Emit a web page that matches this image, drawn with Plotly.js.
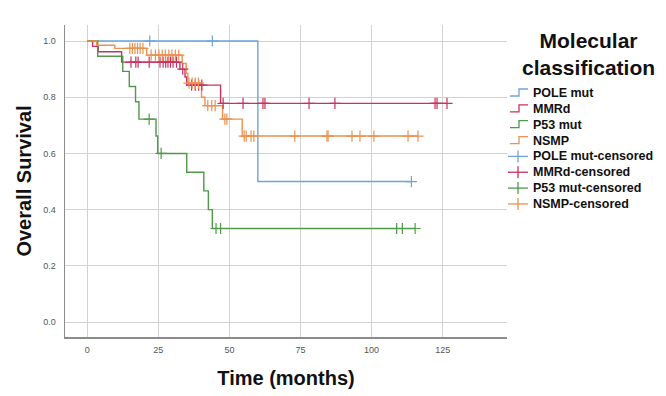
<!DOCTYPE html>
<html>
<head>
<meta charset="utf-8">
<script src="https://cdn.plot.ly/plotly-3.0.1.min.js"></script>
<style>html,body{margin:0;padding:0;background:#fff;}#chart{width:666px;height:396px;}</style>
</head>
<body>
<div id="chart"></div>
<script>
// Kaplan-Meier step data (event times and survival after each event)
var groupNames = ["POLE mut", "MMRd", "P53 mut", "NSMP"];

var poleT = [0, 60];
var poleS = [1.0, 0.5];
var poleCens = [22, 44, 114];

var mmrdT = [0, 1.9, 3.9, 12.1, 32.6, 34.4, 35.0, 46.9];
var mmrdS = [1.0, 0.981, 0.962, 0.925, 0.90, 0.872, 0.843, 0.778];
var mmrdCens = [15.4, 17.1, 17.9, 21.8, 25.6, 26.7, 27.6, 28.4, 29.3, 30.2, 31.4, 33.6,
                36.7, 38.0, 39.2, 40.3, 47.8, 54.8, 61.8, 62.5, 78, 87.1, 122.3, 123, 126.5];

var p53T = [0, 3.7, 12.5, 14.8, 17.0, 18.2, 24.2, 24.8, 35.0, 41.0, 42.6, 44.0];
var p53S = [1.0, 0.946, 0.892, 0.838, 0.784, 0.722, 0.662, 0.60, 0.533, 0.467, 0.40, 0.333];
var p53Cens = [21.8, 26.0, 45.3, 46.9, 108.8, 110.8, 115.3];

var nsmpT = [0, 3.3, 9.7, 20.9, 33.4, 34.8, 35.4, 40.2, 41.4, 47.6, 54.5];
var nsmpS = [1.0, 0.985, 0.974, 0.95, 0.92, 0.885, 0.85, 0.80, 0.77, 0.722, 0.662];
var nsmpCens = [15.0, 15.9, 16.8, 17.7, 18.6, 19.6, 22.5, 24.0, 25.2, 26.4, 27.5, 28.7, 29.8, 31.0, 32.2,
                35.8, 36.9, 38.0, 39.1, 42.4, 43.8, 45.0, 48.4, 49.1,
                55.2, 55.9, 57.6, 58.6, 73, 84.3, 84.7, 93.1, 95.9, 100.8, 112.8, 116.3];

var colors = ["#6fa3d8", "#c8325f", "#4e9a4a", "#ec9150"];

var xTicks = [0, 25, 50, 75, 100, 125];
var yTicks = [0, 0.2, 0.4, 0.6, 0.8, 1.0];
var yTickText = ["0.0", "0.2", "0.4", "0.6", "0.8", "1.0"];

var legendTitle = "Molecular<br>classification";
var legendLabels = groupNames.concat(groupNames.map(function(n) { return n + "-censored"; }));

function survAt(T, S, t) {
  var v = S[0];
  for (var i = 0; i < T.length; i++) { if (T[i] <= t) v = S[i]; }
  return v;
}

var groups = [
  {T: poleT, S: poleS, C: poleCens},
  {T: mmrdT, S: mmrdS, C: mmrdCens},
  {T: p53T, S: p53S, C: p53Cens},
  {T: nsmpT, S: nsmpS, C: nsmpCens}
];

var traces = [];
groups.forEach(function(g, i) {
  var lastC = Math.max.apply(null, g.C);
  var endT = Math.max(lastC, g.T[g.T.length - 1]);
  traces.push({
    type: "scatter", mode: "lines", name: groupNames[i],
    x: g.T.concat([endT]), y: g.S.concat([g.S[g.S.length - 1]]),
    line: {shape: "hv", color: colors[i], width: 1.4},
    hoverinfo: "skip"
  });
});
groups.forEach(function(g, i) {
  traces.push({
    type: "scatter", mode: "markers", name: groupNames[i] + "-censored",
    x: g.C, y: g.C.map(function(c) { return survAt(g.T, g.S, c); }),
    marker: {symbol: "cross-thin-open", size: 8, color: colors[i], line: {color: colors[i], width: 1.2}},
    hoverinfo: "skip"
  });
});

// Layout geometry (pixels)
var W = 666, H = 396;
var M = {l: 65, r: 159, t: 25, b: 59};
var plotW = W - M.l - M.r, plotH = H - M.t - M.b;
function px(xp) { return (xp - M.l) / plotW; }
function py(yp) { return 1 - (yp - M.t) / plotH; }

var fontFam = "Liberation Sans, Arial, sans-serif";

// Hand-drawn legend (tight row spacing like the original)
var shapes = [], annotations = [];
var rowY0 = 93, rowStep = 15.85;
legendLabels.forEach(function(lab, k) {
  var y = rowY0 + k * rowStep;
  var c = colors[k % 4];
  if (k < 4) {
    shapes.push({type: "path", xref: "paper", yref: "paper",
      path: "M " + px(510) + "," + py(y + 3) + " L " + px(519) + "," + py(y + 3) +
            " L " + px(519) + "," + py(y - 4) + " L " + px(528) + "," + py(y - 4),
      line: {color: c, width: 1.3}});
  } else {
    shapes.push({type: "line", xref: "paper", yref: "paper",
      x0: px(508), x1: px(528), y0: py(y), y1: py(y), line: {color: c, width: 1.3}});
    shapes.push({type: "line", xref: "paper", yref: "paper",
      x0: px(518), x1: px(518), y0: py(y - 6), y1: py(y + 6), line: {color: c, width: 1.3}});
  }
  annotations.push({xref: "paper", yref: "paper", x: px(531), y: py(y), xanchor: "left", yanchor: "middle",
    text: "<b>" + lab + "</b>", showarrow: false, font: {size: 12.5, family: fontFam, color: "#111"}});
});
annotations.push({xref: "paper", yref: "paper", x: px(588), y: py(54), xanchor: "center", yanchor: "middle",
  text: "<b>" + legendTitle + "</b>", showarrow: false, align: "center",
  font: {size: 21, family: fontFam, color: "#111"}});

var layout = {
  width: W, height: H,
  margin: {l: M.l, r: M.r, t: M.t, b: M.b, autoexpand: false},
  paper_bgcolor: "#fff", plot_bgcolor: "#fff",
  font: {family: fontFam, color: "#000"},
  showlegend: false,
  xaxis: {
    range: [-7.8, 147.6], tickvals: xTicks, ticktext: xTicks.map(String),
    showgrid: true, gridcolor: "#d2d2d2", gridwidth: 1, zeroline: false,
    showline: true, linecolor: "#8c8c8c", linewidth: 1.5, ticks: "",
    tickfont: {size: 9, color: "#555"}, ticklabelstandoff: 4,
    title: {text: "<b>Time (months)</b>", font: {size: 20, family: fontFam, color: "#111"}, standoff: 16}
  },
  yaxis: {
    range: [-0.053, 1.057], tickvals: yTicks, ticktext: yTickText,
    showgrid: true, gridcolor: "#d2d2d2", gridwidth: 1, zeroline: false,
    showline: true, linecolor: "#8c8c8c", linewidth: 1.5, ticks: "",
    tickfont: {size: 9, color: "#555"}, ticklabelstandoff: 6,
    title: {text: "<b>Overall Survival</b>", font: {size: 20, family: fontFam, color: "#111"}, standoff: 6}
  },
  shapes: shapes,
  annotations: annotations
};

Plotly.newPlot("chart", traces, layout, {displayModeBar: false, staticPlot: true});
</script>
</body>
</html>
